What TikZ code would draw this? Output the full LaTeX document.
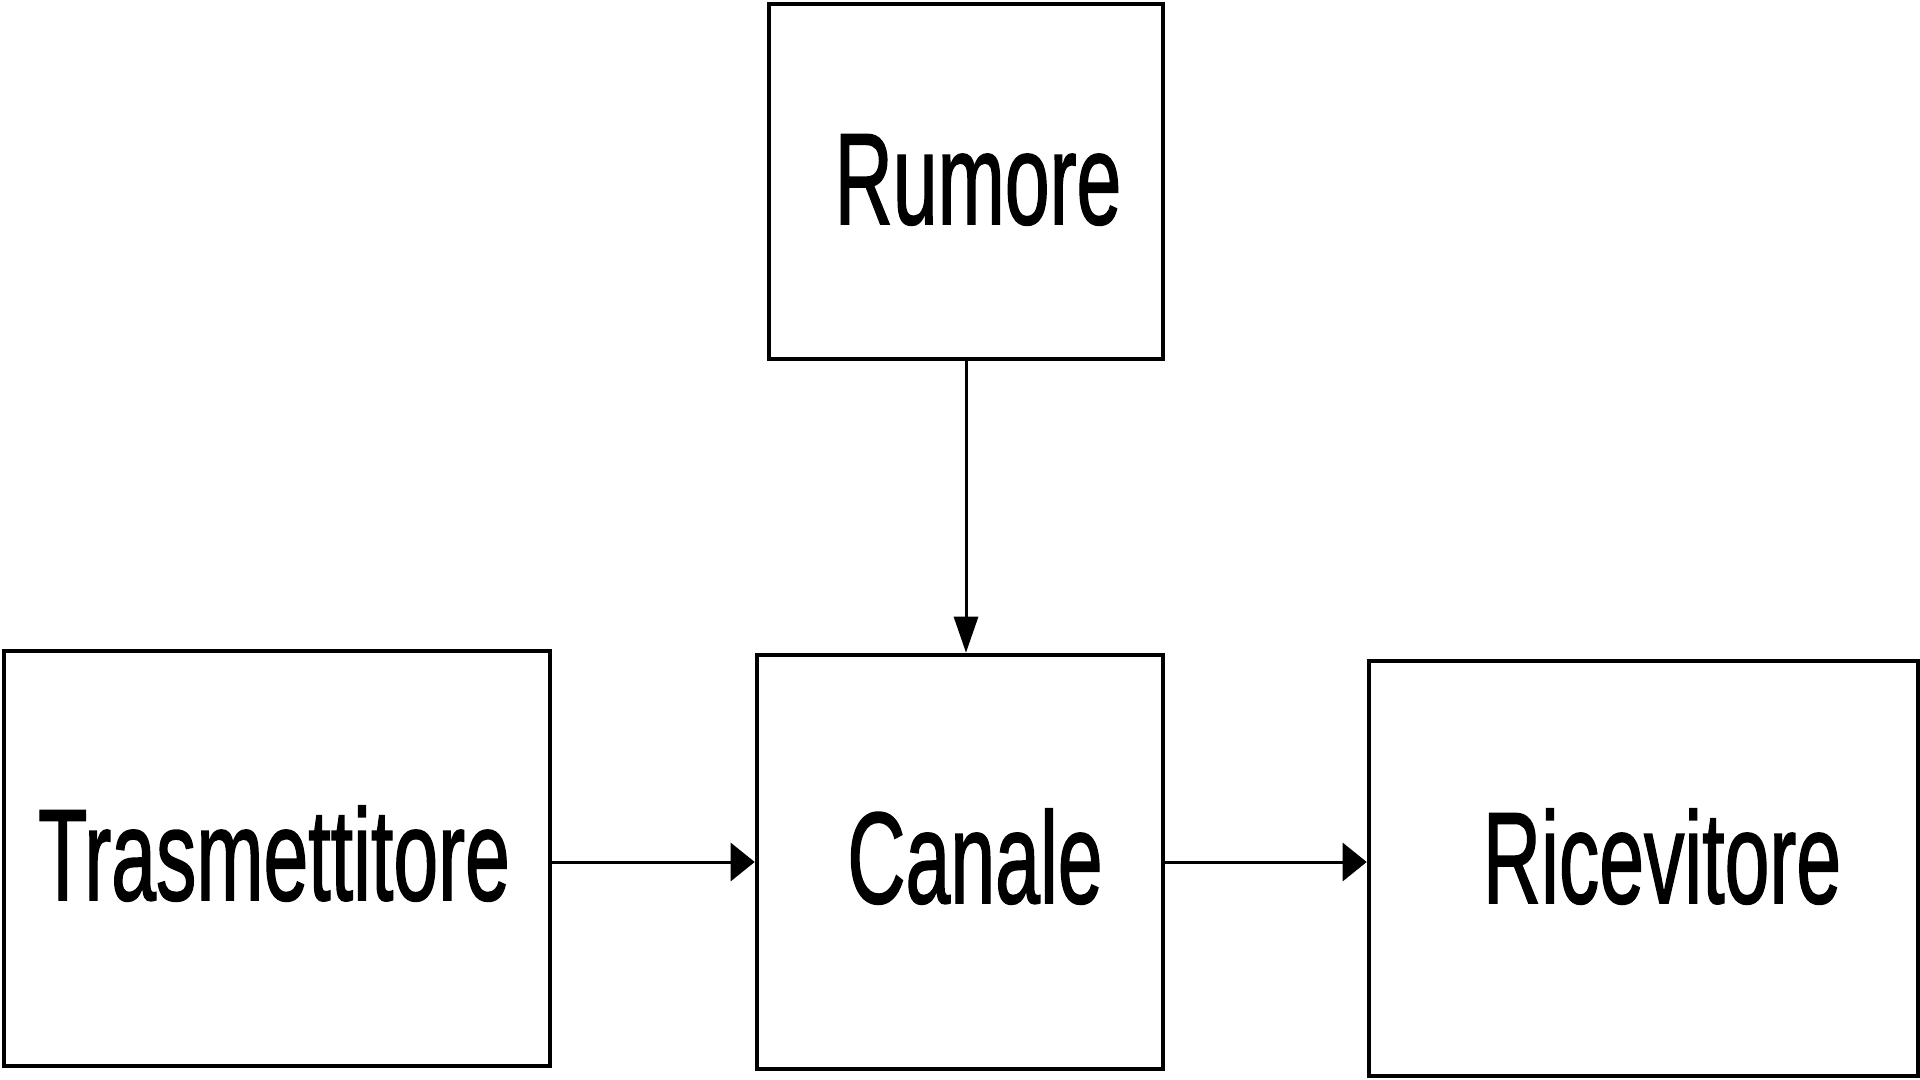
\documentclass[tikz,border=0pt]{standalone}
\usepackage{fontspec}
\usepackage{graphicx}
\setmainfont{Liberation Sans}
\newfontfamily\lblfont{Liberation Sans}[FakeBold=1.5]
\usetikzlibrary{arrows.meta}
\tikzset{
  blockbox/.style={draw=black, line width=2.3pt, rectangle, inner sep=0pt},
  lbl/.style={anchor=base, inner sep=0pt, font=\lblfont\fontsize{65}{70}\selectfont},
  conn/.style={draw=black, line width=1.5pt},
  vtip/.style={-{Triangle[length=18pt,width=12pt]}},
  htip/.style={-{Triangle[length=12pt,width=19pt]}}
}
\newcommand{\narrow}[1]{\scalebox{0.62}[1]{#1}}
\begin{document}
\begin{tikzpicture}[x=0.5pt,y=-0.5pt]
\useasboundingbox (0,0) rectangle (1920,1080);
\node[blockbox, minimum width=197pt, minimum height=177.5pt] (rumore) at (966,181.5) {};
\node[blockbox, minimum width=273pt, minimum height=207.5pt] (trasm) at (277,858.5) {};
\node[blockbox, minimum width=203pt, minimum height=207pt] (canale) at (960,862) {};
\node[blockbox, minimum width=274.5pt, minimum height=207.5pt] (ricev) at (1643.5,868.5) {};
\node[lbl] (trumore) at (978,224) {\narrow{Rumore}};
\node[lbl] (ttrasm) at (274,900) {\narrow{Trasmettitore}};
\node[lbl] (tcanale) at (975,903) {\narrow{Canale}};
\node[lbl] (tricev) at (1662,903) {\narrow{Ricevitore}};
\draw[conn, vtip] (rumore.south) -- (rumore.south |- canale.north);
\draw[conn, htip] (trasm.east |- canale.west) -- (canale.west);
\draw[conn, htip] (canale.east) -- (canale.east -| ricev.west);
\end{tikzpicture}
\end{document}
